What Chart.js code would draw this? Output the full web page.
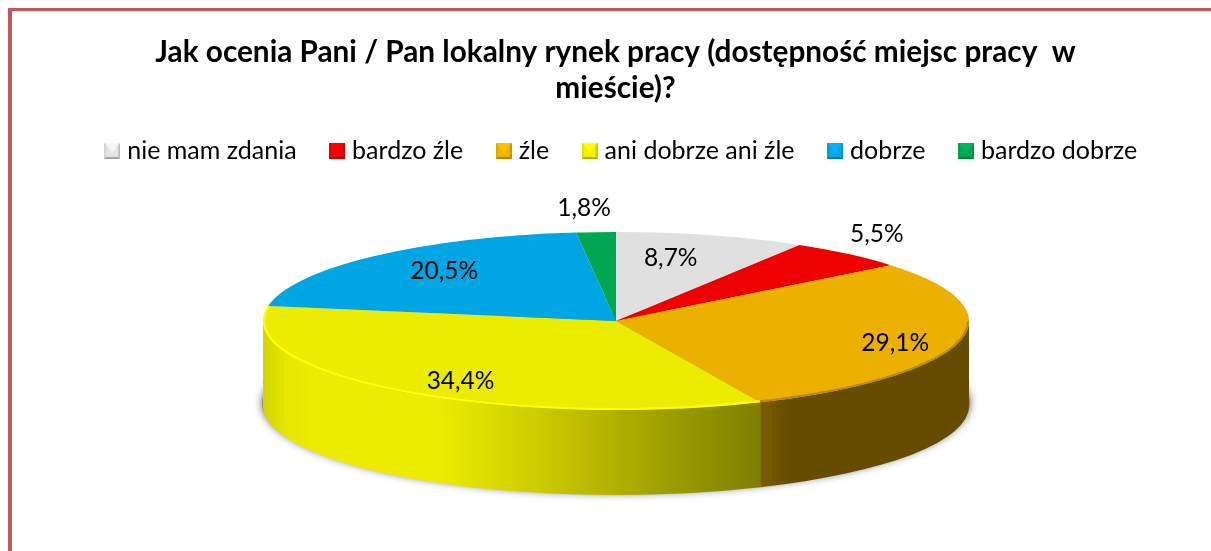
<!DOCTYPE html>
<html><head><meta charset="utf-8">
<style>
html,body{margin:0;padding:0;background:#fff;overflow:hidden}
#frame{position:absolute;left:8px;top:8px;right:0;bottom:0;border-top:3px solid #c5565a;border-left:4px solid #c5565a}
canvas{position:absolute;left:0;top:0}
</style>
<script src="https://cdn.jsdelivr.net/npm/chart.js@4"></script>
</head><body>
<div id="frame"></div>
<canvas id="c" width="1211" height="551"></canvas>
<script>
const titleLines = ['Jak ocenia Pani / Pan lokalny rynek pracy (dostępność miejsc pracy  w', 'mieście)?'];
const categories = ['nie mam zdania', 'bardzo źle', 'źle', 'ani dobrze ani źle', 'dobrze', 'bardzo dobrze'];
const shares = [8.7, 5.5, 29.1, 34.4, 20.5, 1.8];
const shareLabels = ['8,7%', '5,5%', '29,1%', '34,4%', '20,5%', '1,8%'];
const sliceColors = ['#e0e0e0', '#ee0000', '#ecb000', '#ecec00', '#00a5e3', '#00a650'];
const rimColors = [null, null, '#b98b00', '#ffff00', null, null];
const labelNudges = [[-12,-3], [98,-40], [39,8], [-4,11], [-2,-5], [-18,-51]];
const wallStops = [
  null, null,
  [[0,.53],[.14,.43],[1,.43]],
  [[0,.9],[.05,.98],[.1,1],[.35,1],[.55,.87],[.8,.68],[1,.54]],
  null, null
];
const PIE = {cx:616, cy:321, rx:353, ry:89, depth:85};
const FONT = 'Lato, Carlito, sans-serif';

function shade(hex, k){
  const n = parseInt(hex.slice(1),16);
  const f = v => Math.max(0,Math.min(255,Math.round(v*k)));
  return `rgb(${f(n>>16&255)},${f(n>>8&255)},${f(n&255)})`;
}
function bevel(hex){
  const s = 16, b = 2, c = document.createElement('canvas');
  c.width = c.height = s;
  const g = c.getContext('2d');
  const poly = (col, pts) => { g.fillStyle = col; g.beginPath(); pts.forEach((p,i)=> i?g.lineTo(p[0],p[1]):g.moveTo(p[0],p[1])); g.closePath(); g.fill(); };
  const m = s/2;
  g.fillStyle = shade(hex,.97); g.fillRect(0,0,s,s);
  poly(shade(hex,1.1), [[b,b],[s-b,b],[m,m+2]]);
  poly(shade(hex,1.02), [[b,s-b],[s-b,s-b],[s-b,b],[m,m+2],[b,b]]);
  poly(shade(hex,1.1), [[0,0],[s,0],[s-b,b],[b,b]]);
  poly(shade(hex,.95), [[0,0],[b,b],[b,s-b],[0,s]]);
  poly(shade(hex,.85), [[s,0],[s-b,b],[s-b,s-b],[s,s]]);
  poly(shade(hex,.72), [[0,s],[b,s-b],[s-b,s-b],[s,s]]);
  return c;
}
const legendIcons = sliceColors.map(bevel);

const pie3d = {
  id:'pie3d',
  afterLayout(chart){
    const l = chart.legend, dx = 8, dy = -26;
    l.left += dx; l.right += dx; l.top += dy; l.bottom += dy;
  },
  beforeDatasetsDraw(chart){
    const ctx = chart.ctx, {cx,cy,rx,ry,depth} = PIE;
    const arcs = chart.getDatasetMeta(0).data;
    ctx.save();
    ctx.shadowColor = 'rgba(0,0,0,.6)'; ctx.shadowBlur = 9; ctx.fillStyle = '#888';
    ctx.beginPath(); ctx.ellipse(cx,cy+depth-3,rx+1,ry+1,0,0,Math.PI*2); ctx.fill();
    ctx.restore();
    arcs.forEach((a,i)=>{
      const s = Math.max(a.startAngle,0), e = Math.min(a.endAngle,Math.PI);
      if(e <= s) return;
      const x0 = cx+rx*Math.cos(e), x1 = cx+rx*Math.cos(s);
      const g = ctx.createLinearGradient(x0,0,x1,0);
      (wallStops[i]||[[0,.6],[1,.6]]).forEach(p=>g.addColorStop(p[0], shade(sliceColors[i],p[1])));
      ctx.fillStyle = g;
      ctx.beginPath();
      ctx.ellipse(cx,cy,rx,ry,0,s,e);
      ctx.ellipse(cx,cy+depth,rx,ry,0,e,s,true);
      ctx.closePath(); ctx.fill();
    });
    const a0 = arcs[0], k = a0.outerRadius;
    ctx.save();
    ctx.translate(cx,cy); ctx.scale(rx/k,ry/k); ctx.translate(-a0.x,-a0.y);
  },
  afterDatasetsDraw(chart){
    const ctx = chart.ctx, {cx,cy,rx,ry} = PIE;
    ctx.restore();
    const arcs = chart.getDatasetMeta(0).data;
    arcs.forEach((a,i)=>{
      if(!rimColors[i]) return;
      ctx.save();
      ctx.strokeStyle = rimColors[i]; ctx.lineWidth = 2;
      ctx.beginPath();
      ctx.ellipse(cx,cy,rx-1,ry-1,0,Math.max(a.startAngle,0),a.endAngle);
      ctx.stroke(); ctx.restore();
    });
    ctx.save();
    ctx.fillStyle = '#000'; ctx.font = '24.5px '+FONT; ctx.textAlign = 'center'; ctx.textBaseline = 'middle';
    arcs.forEach((a,i)=>{
      const m = (a.startAngle+a.endAngle)/2;
      ctx.fillText(shareLabels[i], cx+.7*rx*Math.cos(m)+labelNudges[i][0], cy+.7*ry*Math.sin(m)+labelNudges[i][1]);
    });
    ctx.restore();
  }
};

new Chart(document.getElementById('c'), {
  type:'pie',
  data:{labels:categories, datasets:[{data:shares, backgroundColor:sliceColors, borderWidth:0, hoverOffset:0}]},
  plugins:[pie3d],
  options:{
    responsive:false, animation:false,
    layout:{padding:{left:20, top:34, bottom:10}},
    plugins:{
      tooltip:{enabled:false},
      title:{display:true, text:titleLines, color:'#000', align:'center',
        font:{family:FONT, size:29.75, weight:'bold', lineHeight:1.22}, padding:{top:0,bottom:20}},
      legend:{display:true, position:'top', align:'center',
        labels:{color:'#000', font:{family:FONT, size:25}, usePointStyle:true, boxWidth:5, padding:38,
          generateLabels(chart){
            return categories.map((t,i)=>({text:t, pointStyle:legendIcons[i], fillStyle:sliceColors[i], strokeStyle:sliceColors[i], lineWidth:0, hidden:false, index:i, fontColor:'#000'}));
          }}}
    }
  }
});
</script>
</body></html>
